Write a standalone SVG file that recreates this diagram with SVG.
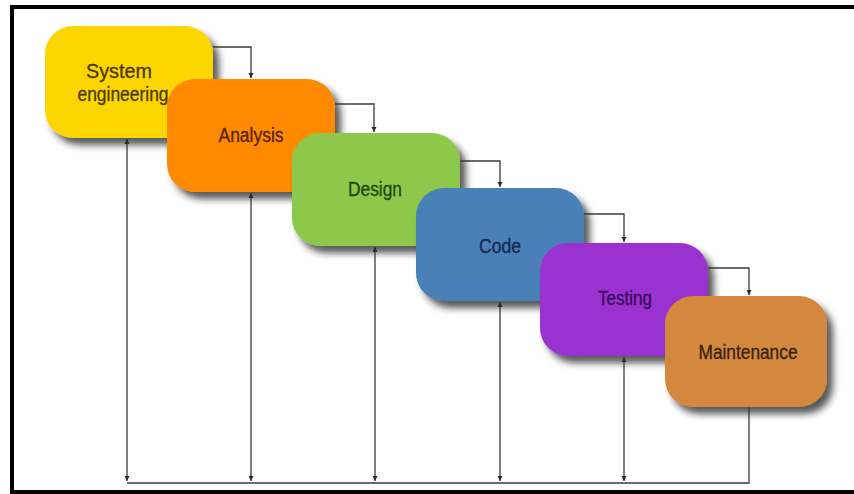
<svg xmlns="http://www.w3.org/2000/svg" width="854" height="494" viewBox="0 0 854 494">
  <style>
    .frame { stroke: #000; stroke-width: 4; fill: none; }
    .box { filter: url(#shadow); }
    .label { font-family: "Liberation Sans", Arial, sans-serif; font-size: 20px; text-anchor: middle; stroke-width: 0.35; }
    .link { stroke: #3a3a3a; stroke-width: 1.3; fill: none; }
    .fb { marker-start: url(#arrow); marker-end: url(#arrow); }
  </style>
  <defs>
    <filter id="shadow" x="-10%" y="-10%" width="130%" height="140%">
      <feDropShadow dx="6" dy="7" stdDeviation="3.5" flood-color="#222" flood-opacity="0.75"/>
    </filter>
    <marker id="arrow" viewBox="0 0 10 10" refX="10" refY="5" markerWidth="5" markerHeight="8" markerUnits="userSpaceOnUse" orient="auto-start-reverse">
      <path d="M0,0 L10,5 L0,10 Z" fill="#2a2a2a"/>
    </marker>
  </defs>

  <rect width="854" height="494" fill="#fff"/>

  <!-- outer frame: left, top and bottom rules -->
  <path class="frame" d="M12,494 L12,7 L854,7"/>
  <path class="frame" d="M12,492 L854,492"/>

  <g id="system-engineering">
    <rect class="box" x="45" y="26" width="168" height="112" rx="28" fill="#FDD600"/>
    <text class="label" fill="#4a3c00" stroke="#4a3c00"><tspan x="119" y="78" textLength="66" lengthAdjust="spacingAndGlyphs">System</tspan><tspan x="123" y="101" textLength="91" lengthAdjust="spacingAndGlyphs">engineering</tspan></text>
  </g>

  <g id="analysis">
    <rect class="box" x="167" y="79" width="168" height="113" rx="28" fill="#FF8A00"/>
    <text class="label" x="251" y="142" textLength="65" lengthAdjust="spacingAndGlyphs" fill="#5a2600" stroke="#5a2600">Analysis</text>
  </g>

  <g id="design">
    <rect class="box" x="292" y="133" width="168" height="113" rx="28" fill="#8DC84B"/>
    <text class="label" x="375" y="196" textLength="54" lengthAdjust="spacingAndGlyphs" fill="#1f4a0c" stroke="#1f4a0c">Design</text>
  </g>

  <g id="code">
    <rect class="box" x="416" y="188" width="168" height="113" rx="28" fill="#4880B8"/>
    <text class="label" x="500" y="253" textLength="42" lengthAdjust="spacingAndGlyphs" fill="#142a4e" stroke="#142a4e">Code</text>
  </g>

  <g id="testing">
    <rect class="box" x="540" y="243" width="168" height="113" rx="28" fill="#9A30D2"/>
    <text class="label" x="625" y="305" textLength="54" lengthAdjust="spacingAndGlyphs" fill="#3a0a5a" stroke="#3a0a5a">Testing</text>
  </g>

  <g id="maintenance">
    <rect class="box" x="665" y="296" width="162" height="111" rx="28" fill="#D4883E"/>
    <text class="label" x="748" y="359" textLength="99" lengthAdjust="spacingAndGlyphs" fill="#3a220c" stroke="#3a220c">Maintenance</text>
  </g>

  <g id="connectors">
    <!-- forward flow between stages -->
    <path class="link" d="M213,47 L251,47 L251,78" marker-end="url(#arrow)"/>
    <path class="link" d="M335,104 L374,104 L374,132" marker-end="url(#arrow)"/>
    <path class="link" d="M460,161 L500,161 L500,187" marker-end="url(#arrow)"/>
    <path class="link" d="M584,214 L624,214 L624,242" marker-end="url(#arrow)"/>
    <path class="link" d="M708,268 L749,268 L749,295" marker-end="url(#arrow)"/>

    <!-- feedback lines to the common return bus -->
    <path class="link fb" d="M127,139 L127,481"/>
    <path class="link fb" d="M251,193 L251,481"/>
    <path class="link fb" d="M375,247 L375,481"/>
    <path class="link fb" d="M500,302 L500,481"/>
    <path class="link fb" d="M624,357 L624,481"/>
    <path class="link" d="M749,407 L749,483 L127,483"/>
  </g>
</svg>
